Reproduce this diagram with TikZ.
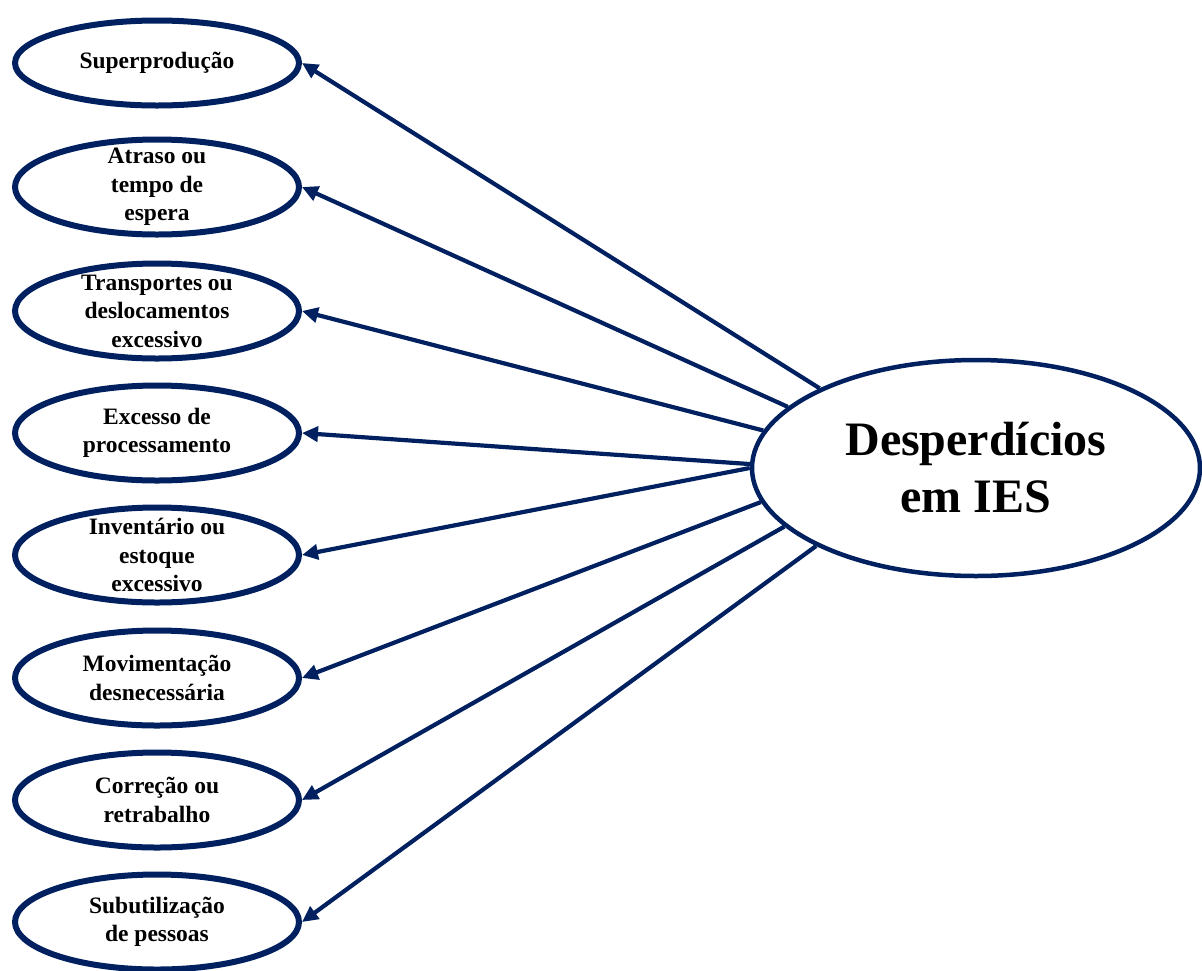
\documentclass[tikz,border=0pt]{standalone}
\usepackage{fontspec}
\setmainfont{Liberation Serif}
\usetikzlibrary{shapes.geometric,arrows.meta}
\definecolor{navy}{HTML}{002060}
\begin{document}
\begin{tikzpicture}[x=1pt,y=-1pt,
  smalltext/.style={inner sep=0pt,align=center,font=\fontsize{23.5}{28.5}\selectfont\bfseries},
  small/.style={ellipse,draw=navy,line width=6pt,minimum width=284pt,minimum height=95pt,inner sep=0pt,label={[smalltext]center:{#1}}},
  big/.style={ellipse,draw=navy,line width=4.5pt,minimum width=448pt,minimum height=216pt,inner sep=0pt,align=center,font=\fontsize{48}{57}\selectfont\bfseries},
  arr/.style={draw=navy,line width=4.2pt,-{Triangle[length=16pt,width=15pt]}}]
\useasboundingbox (0,0) rectangle (1202,970);
\node[small={Superprodução},minimum height=85pt] (s1) at (157,63) {};
\node[small={Atraso ou\\tempo de\\espera}] (s2) at (157,187) {};
\node[small={Transportes ou\\deslocamentos\\excessivo}] (s3) at (157,311) {};
\node[small={Excesso de\\processamento}] (s4) at (157,433) {};
\node[small={Inventário ou\\estoque\\excessivo}] (s5) at (157,555) {};
\node[small={Movimentação\\desnecessária}] (s6) at (157,678) {};
\node[small={Correção ou\\retrabalho}] (s7) at (157,800) {};
\node[small={Subutilização\\de pessoas}] (s8) at (157,922) {};
\node[big] (c) at (976,468) {Desperdícios\\em IES};
\draw[arr] (c.153.7) -- (s1.east);
\draw[arr] (c.162.9) -- (s2.east);
\draw[arr] (c.170.4) -- (s3.east);
\draw[arr] (c.179.5) -- (s4.east);
\draw[arr] (c.180.5) -- (s5.east);
\draw[arr] (c.189.0) -- (s6.east);
\draw[arr] (c.197.4) -- (s7.east);
\draw[arr] (c.206.7) -- (s8.east);
\end{tikzpicture}
\end{document}
